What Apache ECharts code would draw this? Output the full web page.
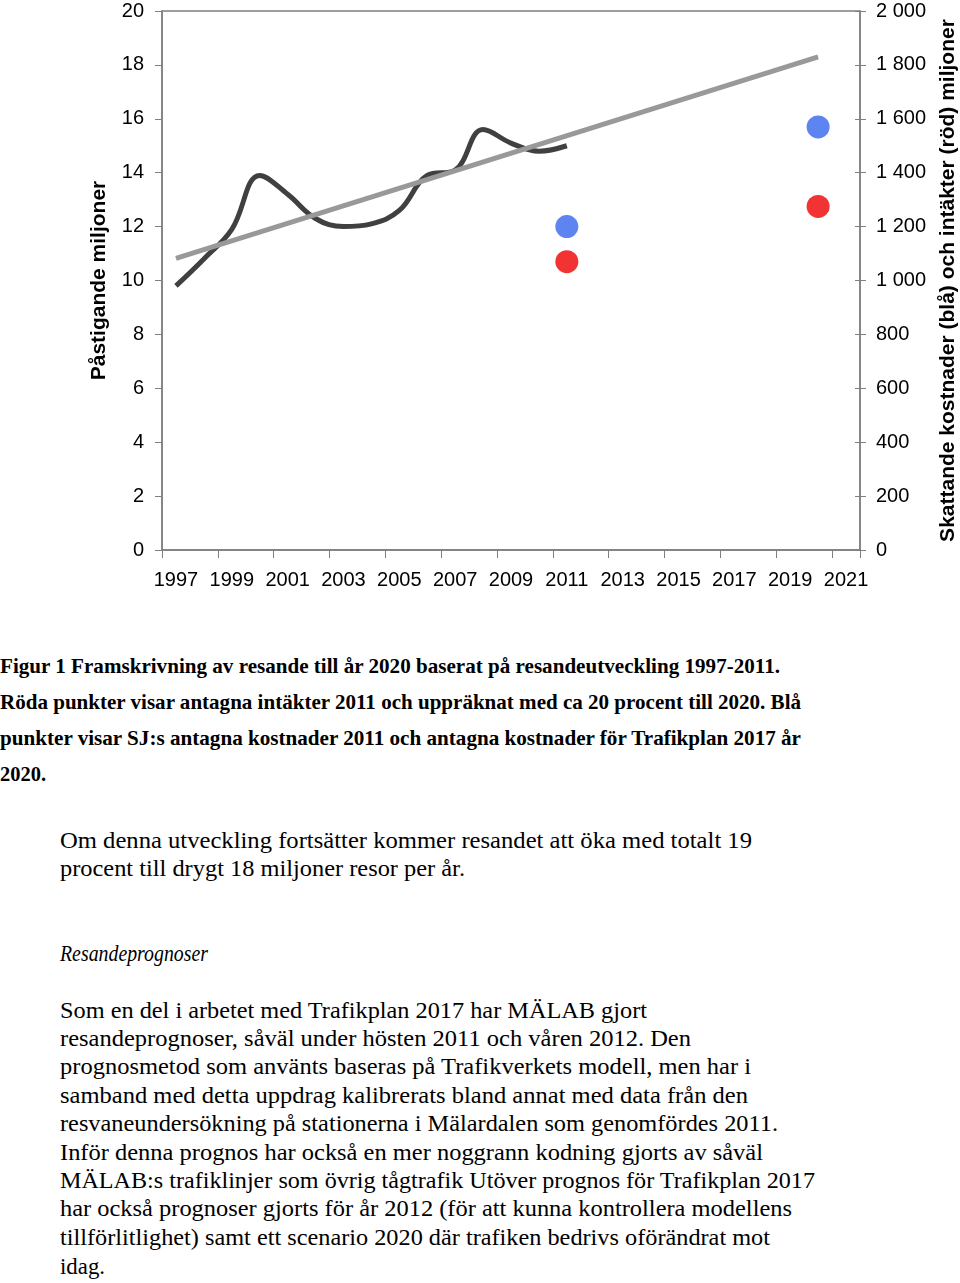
<!DOCTYPE html>
<html>
<head>
<meta charset="utf-8">
<script src="https://cdn.jsdelivr.net/npm/echarts@6/dist/echarts.min.js"></script>
<style>
html,body{margin:0;padding:0;background:#fff;}
#wrap{position:relative;width:960px;height:1283px;overflow:hidden;background:#fff;}
#chart{position:absolute;left:0;top:0;width:960px;height:620px;}
.ln{position:absolute;left:0;white-space:nowrap;height:30px;line-height:30px;transform-origin:0 50%;color:#000;}
.cap{font-family:"Liberation Serif","Times New Roman",serif;font-weight:bold;font-size:21px;}
.body{font-family:"Liberation Serif","Times New Roman",serif;font-size:23px;}
.it{font-style:italic;}
</style>
</head>
<body>
<div id="wrap">
<div id="chart"></div>
<div class="ln cap" style="top:651px" data-x="0" data-w="780">Figur 1 Framskrivning av resande till år 2020 baserat på resandeutveckling 1997-2011.</div>
<div class="ln cap" style="top:687px" data-x="0" data-w="801">Röda punkter visar antagna intäkter 2011 och uppräknat med ca 20 procent till 2020. Blå</div>
<div class="ln cap" style="top:723px" data-x="0" data-w="801">punkter visar SJ:s antagna kostnader 2011 och antagna kostnader för Trafikplan 2017 år</div>
<div class="ln cap" style="top:759px" data-x="0" data-w="46">2020.</div>
<div class="ln body" style="top:826px" data-x="60" data-w="692">Om denna utveckling fortsätter kommer resandet att öka med totalt 19</div>
<div class="ln body" style="top:854px" data-x="60" data-w="405">procent till drygt 18 miljoner resor per år.</div>
<div class="ln body it" style="top:939px" data-x="60" data-w="148">Resandeprognoser</div>
<div class="ln body" style="top:996px" data-x="60" data-w="587">Som en del i arbetet med Trafikplan 2017 har MÄLAB gjort</div>
<div class="ln body" style="top:1024px" data-x="60" data-w="631">resandeprognoser, såväl under hösten 2011 och våren 2012. Den</div>
<div class="ln body" style="top:1052px" data-x="60" data-w="691">prognosmetod som använts baseras på Trafikverkets modell, men har i</div>
<div class="ln body" style="top:1081px" data-x="60" data-w="688">samband med detta uppdrag kalibrerats bland annat med data från den</div>
<div class="ln body" style="top:1109px" data-x="60" data-w="718">resvaneundersökning på stationerna i Mälardalen som genomfördes 2011.</div>
<div class="ln body" style="top:1138px" data-x="60" data-w="703">Inför denna prognos har också en mer noggrann kodning gjorts av såväl</div>
<div class="ln body" style="top:1166px" data-x="60" data-w="755">MÄLAB:s trafiklinjer som övrig tågtrafik Utöver prognos för Trafikplan 2017</div>
<div class="ln body" style="top:1194px" data-x="60" data-w="732">har också prognoser gjorts för år 2012 (för att kunna kontrollera modellens</div>
<div class="ln body" style="top:1223px" data-x="60" data-w="710">tillförlitlighet) samt ett scenario 2020 där trafiken bedrivs oförändrat mot</div>
<div class="ln body" style="top:1252px" data-x="60" data-w="45">idag.</div>
</div>
<script>
// ---- data ----
var years = ['1997','1998','1999','2000','2001','2002','2003','2004','2005','2006','2007','2008','2009','2010','2011','2012','2013','2014','2015','2016','2017','2018','2019','2020','2021'];
var passengers = [9.8, 10.8, 11.9, 13.9, 13.2, 12.3, 12.0, 12.1, 12.6, 13.9, 14.1, 15.6, 15.1, 14.8, 15.0];
var trendYears = ['1997', '2020'];
var trendValues = [10.82, 18.3];
var pointYears = ['2011', '2020'];
var costs = [1200, 1570];
var revenues = [1070, 1275];
var leftName = 'Påstigande miljoner';
var rightName = 'Skattande kostnader (blå) och intäkter (röd) miljoner';

function pairs(xs, ys){ return xs.map(function(x,i){ return [x, ys[i]]; }); }

var chart = echarts.init(document.getElementById('chart'), null, {renderer:'canvas'});
var axisGray = '#7f7f7f';
var labelFont = {color:'#000', fontFamily:'"Liberation Sans", Arial, sans-serif', fontSize:20};
chart.setOption({
  animation:false,
  grid:{left:162, right:100, top:11, height:539, containLabel:false, outerBoundsMode:'none',
        show:true, borderColor:axisGray, borderWidth:1.5, backgroundColor:'transparent'},
  xAxis:{
    type:'category', data:years, boundaryGap:true,
    axisLine:{lineStyle:{color:axisGray, width:1.5}},
    axisTick:{show:true, interval:1, length:8, lineStyle:{color:axisGray, width:1}},
    axisLabel:{interval:1, margin:20, color:'#000', fontFamily:'"Liberation Sans", Arial, sans-serif', fontSize:20},
    splitLine:{show:false}
  },
  yAxis:[
    {type:'value', position:'left', min:0, max:20, interval:2,
     name:leftName, nameLocation:'middle', nameRotate:90, nameGap:52,
     nameTextStyle:{fontFamily:'"Liberation Sans", Arial, sans-serif', fontWeight:'bold', fontSize:21, color:'#000'},
     axisLine:{show:true, lineStyle:{color:axisGray, width:1.5}},
     axisTick:{show:true, length:7, lineStyle:{color:axisGray}},
     axisLabel:Object.assign({margin:18}, labelFont),
     splitLine:{show:false}},
    {type:'value', position:'right', min:0, max:2000, interval:200,
     name:rightName, nameLocation:'middle', nameRotate:90, nameGap:78,
     nameTextStyle:{fontFamily:'"Liberation Sans", Arial, sans-serif', fontWeight:'bold', fontSize:21, color:'#000'},
     axisLine:{show:true, lineStyle:{color:axisGray, width:1.5}},
     axisTick:{show:true, length:6, lineStyle:{color:axisGray}},
     axisLabel:Object.assign({margin:16, formatter:function(v){ return String(v).replace(/\B(?=(\d{3})+(?!\d))/g,' '); }}, labelFont),
     splitLine:{show:false}},
    {type:'value', position:'right', min:0, max:2000, interval:200,
     axisLine:{show:false}, axisLabel:{show:false},
     axisTick:{show:true, inside:true, length:5, lineStyle:{color:axisGray}},
     splitLine:{show:false}}
  ],
  series:[
    {name:'Resande', type:'line', data:passengers, smooth:0.4, symbol:'none',
     lineStyle:{color:'#404040', width:5}, z:3},
    {name:'Trend', type:'line', data:pairs(trendYears, trendValues), symbol:'none',
     lineStyle:{color:'#999999', width:5}, z:4},
    {name:'Kostnader', type:'scatter', yAxisIndex:1, data:pairs(pointYears, costs), symbolSize:23,
     itemStyle:{color:'#3465ee'}, z:5},
    {name:'Intäkter', type:'scatter', yAxisIndex:1, data:pairs(pointYears, revenues), symbolSize:23,
     itemStyle:{color:'#ee0000'}, z:5}
  ]
});

// fit text lines to the widths seen in the reference
var lines = document.querySelectorAll('.ln');
lines.forEach(function(el){
  el.style.left = el.getAttribute('data-x') + 'px';
  var w = el.getBoundingClientRect().width;
  var target = parseFloat(el.getAttribute('data-w'));
  if (w > 0) el.style.transform = 'scaleX(' + (target / w) + ')';
});
</script>
</body>
</html>
